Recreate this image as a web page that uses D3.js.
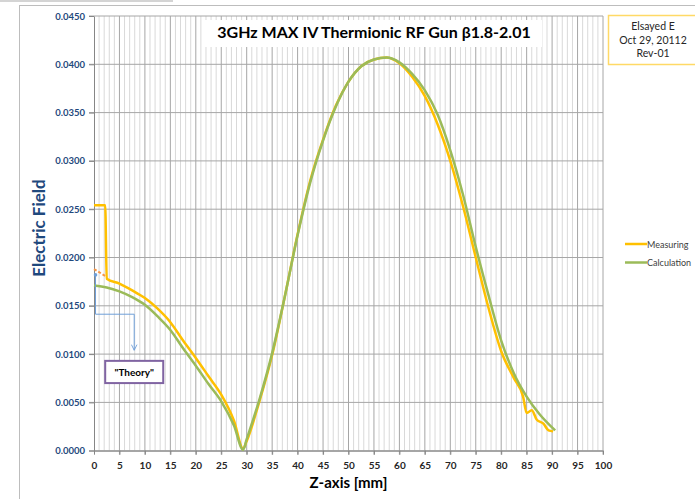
<!DOCTYPE html>
<html>
<head>
<meta charset="utf-8">
<script src="https://cdn.jsdelivr.net/npm/d3@7"></script>
<style>
  body { margin: 0; background: #fff; }
  text { font-family: Lato, 'Open Sans', sans-serif; }
</style>
</head>
<body>
<div id="chart"></div>
<script>
// values
const zMeasure = [0, 2.2, 2.5, 5, 7.5, 10, 12.5, 15, 17.5, 20, 22.5, 25, 27.5, 29.3, 30, 32.5, 35, 37.5, 40, 42.5, 45, 47.5, 50, 52.5, 55, 57.5, 60, 62.5, 65, 67.5, 70, 72.5, 75, 77.5, 80, 82.5, 84.3, 85, 86, 87, 88.3, 89.3, 90.2]
const eMeasure = [0.0254, 0.0254, 0.0178, 0.0173, 0.0166, 0.0158, 0.0147, 0.0133, 0.0114, 0.0096, 0.0077, 0.0058, 0.0031, 0.0002, 0.0010, 0.0051, 0.0099, 0.0160, 0.0224, 0.0280, 0.0322, 0.0357, 0.0382, 0.0398, 0.0405, 0.0407, 0.0401, 0.0387, 0.0367, 0.0338, 0.0300, 0.0253, 0.0200, 0.0148, 0.0103, 0.0075, 0.0056, 0.0039, 0.0042, 0.0032, 0.0028, 0.0021, 0.0020]

const zCalc = [0, 2.5, 5, 7.5, 10, 12.5, 15, 17.5, 20, 22.5, 25, 27.5, 29.3, 30, 32.5, 35, 37.5, 40, 42.5, 45, 47.5, 50, 52.5, 55, 57.5, 60, 62.5, 65, 67.5, 70, 72.5, 75, 77.5, 80, 82.5, 85, 87.5, 90.6]
const eCalc = [0.0171, 0.0169, 0.0165, 0.0159, 0.0151, 0.0139, 0.0125, 0.0106, 0.0088, 0.0069, 0.0051, 0.0026, 0.0001, 0.0012, 0.0053, 0.0101, 0.0160, 0.0223, 0.0278, 0.0321, 0.0356, 0.0382, 0.0398, 0.0405, 0.0407, 0.0402, 0.0390, 0.0373, 0.0348, 0.0311, 0.0265, 0.0211, 0.0161, 0.0114, 0.0080, 0.0056, 0.0038, 0.0021]

// dotted "theory" extrapolation at the start
const zTheory = [0, 2.5]
const eTheory = [0.0188, 0.0180]

const xTicks = d3.range(0, 101, 5)
const yTicks = d3.range(0, 0.04501, 0.005)
const seriesNames = ['Measuring', 'Calculation']
const infoLines = ['Elsayed E', 'Oct 29, 20112', 'Rev-01']

const margin = {
  top: 16,
  right: 92,
  bottom: 48.3,
  left: 94
}

const width = 695 - margin.left - margin.right
const height = 499 - margin.top - margin.bottom

const svg = d3
  .select('#chart')
  .append('svg')
  .attr('width', 695)
  .attr('height', 499)

// outer frame of the screenshot
svg.append('rect').attr('x', 0).attr('y', 0).attr('width', 173).attr('height', 2).attr('fill', '#d4d4d4')
svg.append('line').attr('x1', 19).attr('x2', 695).attr('y1', 5.5).attr('y2', 5.5).attr('stroke', '#bdbdbd')
svg.append('line').attr('x1', 19.5).attr('x2', 19.5).attr('y1', 5).attr('y2', 499).attr('stroke', '#bdbdbd')

const g = svg
  .append('g')
  .attr('transform', 'translate(' + margin.left + ',' + margin.top + ')')

const x = d3.scaleLinear().domain([0, 100]).range([0, width])
const y = d3.scaleLinear().domain([0, 0.045]).range([height, 0])

// vertical gridlines every 1 mm, darker every 5
g.selectAll('.vgrid')
  .data(d3.range(1, 101, 1))
  .enter()
  .append('line')
  .attr('class', 'vgrid')
  .attr('x1', d => x(d))
  .attr('x2', d => x(d))
  .attr('y1', 0)
  .attr('y2', d => d % 5 === 0 ? height + 4 : height)
  .attr('stroke', d => d % 5 === 0 ? '#a6a6a6' : '#d9d9d9')
  .attr('stroke-width', 1)

// horizontal gridlines
g.selectAll('.hgrid')
  .data(yTicks)
  .enter()
  .append('line')
  .attr('class', 'hgrid')
  .attr('x1', -5)
  .attr('x2', width)
  .attr('y1', d => y(d))
  .attr('y2', d => y(d))
  .attr('stroke', '#a6a6a6')

const xAxis = g.append('g')
  .attr('transform', 'translate(0,' + height + ')')
  .call(d3.axisBottom(x).tickValues(xTicks).tickSize(4).tickSizeOuter(0).tickPadding(7))

xAxis.select('.domain').attr('stroke', '#868686')
xAxis.selectAll('.tick line').attr('stroke', '#868686')
xAxis.selectAll('.tick text')
  .attr('font-size', 10)
  .attr('font-weight', 'bold')
  .attr('fill', '#262626')

const yAxis = g.append('g')
  .call(d3.axisLeft(y).tickValues(yTicks).tickFormat(d3.format('.4f')).tickSize(5).tickSizeOuter(0).tickPadding(4))

yAxis.select('.domain').attr('stroke', '#868686')
yAxis.selectAll('.tick line').attr('stroke', '#868686')
yAxis.selectAll('.tick text')
  .attr('font-size', 9.5)
  .attr('font-weight', 'bold')
  .attr('fill', '#1f497d')

// axis titles
g.append('text')
  .attr('x', x(50))
  .attr('y', height + 37)
  .attr('text-anchor', 'middle')
  .attr('font-size', 15)
  .attr('font-weight', 'bold')
  .attr('fill', '#000')
  .text('Z-axis [mm]')

g.append('text')
  .attr('transform', 'translate(' + (45 - margin.left) + ',' + (228 - margin.top) + ') rotate(-90)')
  .attr('text-anchor', 'middle')
  .attr('font-size', 17)
  .attr('font-weight', 'bold')
  .attr('fill', '#1f497d')
  .text('Electric Field')

const line = d3.line()
  .curve(d3.curveMonotoneX)
  .x(d => x(d[0]))
  .y(d => y(d[1]))

g.append('path')
  .datum(d3.zip(zTheory, eTheory))
  .attr('d', line)
  .attr('fill', 'none')
  .attr('stroke', '#f79646')
  .attr('stroke-width', 2)
  .attr('stroke-dasharray', '3,2')

g.append('path')
  .datum(d3.zip(zMeasure, eMeasure))
  .attr('d', line)
  .attr('fill', 'none')
  .attr('stroke', '#ffc000')
  .attr('stroke-width', 2.5)
  .attr('stroke-linejoin', 'round')

g.append('path')
  .datum(d3.zip(zCalc, eCalc))
  .attr('d', line)
  .attr('fill', 'none')
  .attr('stroke', '#9bbb59')
  .attr('stroke-width', 2.5)
  .attr('stroke-linejoin', 'round')

// "Theory" callout
const arrowPts = [[0.3, 0.0182], [0.3, 0.01413], [7.9, 0.01413], [7.9, 0.0104]]
svg.append('defs').append('marker')
  .attr('id', 'arrow')
  .attr('viewBox', '0 0 10 10')
  .attr('refX', 9)
  .attr('refY', 5)
  .attr('markerWidth', 7)
  .attr('markerHeight', 7)
  .attr('orient', 'auto')
  .append('path')
  .attr('d', 'M1,1 L9,5 L1,9')
  .attr('fill', 'none')
  .attr('stroke', '#6f9fd8')
  .attr('stroke-width', 1.3)

g.append('path')
  .datum(arrowPts)
  .attr('d', d3.line().x(d => x(d[0])).y(d => y(d[1])))
  .attr('fill', 'none')
  .attr('stroke', '#6f9fd8')
  .attr('stroke-width', 1)
  .attr('marker-end', 'url(#arrow)')

g.append('circle')
  .attr('cx', x(arrowPts[0][0]))
  .attr('cy', y(arrowPts[0][1]))
  .attr('r', 1.8)
  .attr('fill', '#6f9fd8')

g.append('rect')
  .attr('x', x(2.2))
  .attr('y', y(0.0093))
  .attr('width', x(13.6) - x(2.2))
  .attr('height', y(0.0070) - y(0.0093))
  .attr('fill', '#fff')
  .attr('stroke', '#8064a2')
  .attr('stroke-width', 2)

g.append('text')
  .attr('x', x(7.9))
  .attr('y', y(0.00815) + 4)
  .attr('text-anchor', 'middle')
  .attr('font-size', 10)
  .attr('font-weight', 'bold')
  .attr('fill', '#000')
  .text('"Theory"')

// title
svg.append('rect')
  .attr('x', 205).attr('y', 20).attr('width', 337).attr('height', 27)
  .attr('fill', '#fff')

svg.append('text')
  .attr('x', 374)
  .attr('y', 38)
  .attr('text-anchor', 'middle')
  .attr('font-size', 16)
  .attr('font-weight', 'bold')
  .attr('fill', '#000')
  .text('3GHz MAX IV Thermionic RF Gun β1.8-2.01')

// author box top right
svg.append('rect')
  .attr('x', 608.5).attr('y', 15.5).attr('width', 100).attr('height', 49)
  .attr('fill', '#fff')
  .attr('stroke', '#ffd966')
  .attr('stroke-width', 1.5)

svg.selectAll('.info')
  .data(infoLines)
  .enter()
  .append('text')
  .attr('class', 'info')
  .attr('x', 653)
  .attr('y', (d, i) => 30 + i * 13.5)
  .attr('text-anchor', 'middle')
  .attr('font-size', 10.5)
  .attr('fill', '#262626')
  .text(d => d)

// legend
const legendColors = ['#ffc000', '#9bbb59']
const legend = svg.selectAll('.legend')
  .data(seriesNames)
  .enter()
  .append('g')
  .attr('class', 'legend')
  .attr('transform', (d, i) => 'translate(625,' + (244 + i * 18.5) + ')')

legend.append('line')
  .attr('x1', 0).attr('x2', 22)
  .attr('stroke', (d, i) => legendColors[i])
  .attr('stroke-width', 2.5)

legend.append('text')
  .attr('x', 22)
  .attr('y', 3.5)
  .attr('font-size', 9)
  .attr('fill', '#404040')
  .text(d => d)
</script>
</body>
</html>
